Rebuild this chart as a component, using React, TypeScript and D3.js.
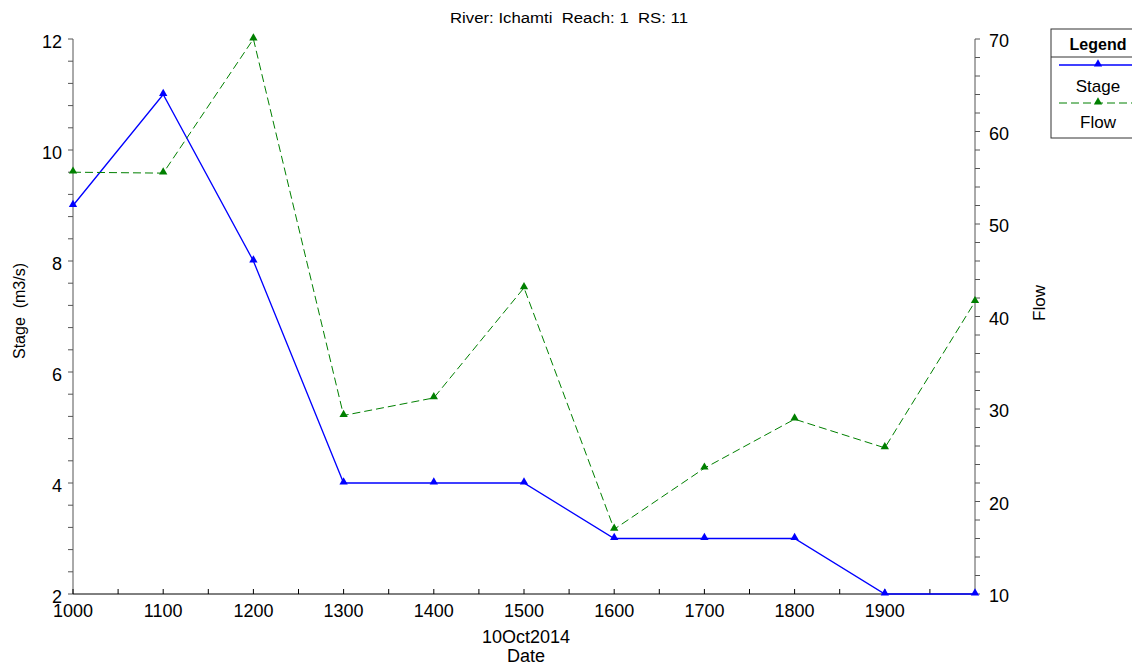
import { useEffect, useRef } from 'react';
import * as d3 from 'd3';

const hours = [1000, 1100, 1200, 1300, 1400, 1500, 1600, 1700, 1800, 1900, 2000];
const stage = [9, 11, 8, 4, 4, 4, 3, 3, 3, 2, 2];
const flow = [55.6, 55.5, 70, 29.3, 31.2, 43.1, 17, 23.6, 28.9, 25.8, 41.6];
const xTicks = [1000, 1100, 1200, 1300, 1400, 1500, 1600, 1700, 1800, 1900];
const stageTicks = [2, 4, 6, 8, 10, 12];
const flowTicks = [10, 20, 30, 40, 50, 60, 70];

const App = () => {
  const svgRef = useRef<SVGSVGElement>(null);

  useEffect(() => {
    const width = 1132;
    const height = 665;
    const left = 73;
    const right = 975;
    const top = 39;
    const bottom = 594;
    const font = 'Arial, "Liberation Sans", sans-serif';

    const svg = d3.select(svgRef.current).attr('width', width).attr('height', height);
    svg.selectAll('*').remove();

    const x = d3.scaleLinear().domain([1000, 2000]).range([left, right]);
    const yS = d3.scaleLinear().domain([2, 12]).range([bottom, top]);
    const yF = d3.scaleLinear().domain([10, 70]).range([bottom, top]);

    svg.append('rect').attr('width', width).attr('height', height).attr('fill', '#fff');

    // title
    svg.append('text').attr('x', 450).attr('y', 23)
      .attr('textLength', 238).attr('lengthAdjust', 'spacingAndGlyphs')
      .style('font-family', font).style('font-size', '14px').style('white-space', 'pre')
      .text('River: Ichamti  Reach: 1  RS: 11');

    // left axis
    const gl = svg.append('g');
    gl.append('line').attr('x1', left).attr('x2', left).attr('y1', top).attr('y2', bottom).attr('stroke', '#555');
    d3.range(2, 12.01, 0.4).forEach((v) => {
      gl.append('line').attr('x1', left - 5).attr('x2', left).attr('y1', yS(v)).attr('y2', yS(v)).attr('stroke', '#555');
    });
    stageTicks.forEach((v) => {
      gl.append('text').attr('x', left - 11).attr('y', yS(v) + 9).attr('text-anchor', 'end')
        .style('font-family', font).style('font-size', '18px').text(v);
    });
    gl.append('text').attr('transform', 'translate(25,311) rotate(-90)')
      .attr('text-anchor', 'middle')
      .style('font-family', font).style('font-size', '16px').style('white-space', 'pre').text('Stage  (m3/s)');

    // right axis
    const gr = svg.append('g');
    gr.append('line').attr('x1', right).attr('x2', right).attr('y1', top).attr('y2', bottom).attr('stroke', '#555');
    d3.range(10, 70.01, 2).forEach((v) => {
      gr.append('line').attr('x1', right).attr('x2', right + 5).attr('y1', yF(v)).attr('y2', yF(v)).attr('stroke', '#555');
    });
    flowTicks.forEach((v) => {
      gr.append('text').attr('x', right + 14).attr('y', yF(v) + 8).attr('text-anchor', 'start')
        .style('font-family', font).style('font-size', '18px').text(v);
    });
    gr.append('text').attr('transform', 'translate(1045,303) rotate(-90)')
      .attr('text-anchor', 'middle')
      .style('font-family', font).style('font-size', '17px').text('Flow');

    // bottom axis
    const gb = svg.append('g');
    gb.append('line').attr('x1', left).attr('x2', right).attr('y1', bottom).attr('y2', bottom).attr('stroke', '#000');
    d3.range(1000, 2000, 50).forEach((v) => {
      gb.append('line').attr('x1', x(v)).attr('x2', x(v)).attr('y1', bottom - 5).attr('y2', bottom).attr('stroke', '#000');
    });
    xTicks.forEach((v) => {
      gb.append('text').attr('x', x(v)).attr('y', bottom + 23).attr('text-anchor', 'middle')
        .style('font-family', font).style('font-size', '18px').text(v);
    });
    gb.append('text').attr('x', x(1500) + 2).attr('y', 643).attr('text-anchor', 'middle')
      .style('font-family', font).style('font-size', '18px').text('10Oct2014');
    gb.append('text').attr('x', x(1500) + 2).attr('y', 662).attr('text-anchor', 'middle')
      .style('font-family', font).style('font-size', '18px').text('Date');

    const tri = d3.symbol().type(d3.symbolTriangle).size(30);

    // series
    const stageLine = d3.line<number>().x((d, i) => x(hours[i])).y((d) => yS(d));
    svg.append('path').attr('d', stageLine(stage)).attr('fill', 'none').attr('stroke', '#0000ff').attr('stroke-width', 1.3);
    const flowLine = d3.line<number>().x((d, i) => x(hours[i])).y((d) => yF(d));
    svg.append('path').attr('d', flowLine(flow)).attr('fill', 'none').attr('stroke', '#008000')
      .attr('stroke-width', 1).attr('stroke-dasharray', '8,4');

    svg.selectAll('.ms').data(stage).enter().append('path')
      .attr('transform', (d, i) => `translate(${x(hours[i])},${yS(d) - 1})`)
      .attr('d', tri).attr('fill', '#0000ff');
    svg.selectAll('.mf').data(flow).enter().append('path')
      .attr('transform', (d, i) => `translate(${x(hours[i])},${yF(d) - 1})`)
      .attr('d', tri).attr('fill', '#008000');

    // legend
    const lg = svg.append('g');
    const lx = 1051;
    const lw = 95;
    lg.append('rect').attr('x', lx).attr('y', 29).attr('width', lw).attr('height', 109)
      .attr('fill', '#fff').attr('stroke', '#333');
    lg.append('line').attr('x1', lx).attr('x2', lx + lw).attr('y1', 57).attr('y2', 57).attr('stroke', '#333');
    lg.append('text').attr('x', 1098).attr('y', 50).attr('text-anchor', 'middle')
      .style('font-family', font).style('font-size', '16px').style('font-weight', 'bold').text('Legend');
    lg.append('line').attr('x1', lx + 8).attr('x2', lx + lw).attr('y1', 65).attr('y2', 65)
      .attr('stroke', '#0000ff').attr('stroke-width', 1.3);
    lg.append('path').attr('transform', 'translate(1098,64)').attr('d', tri).attr('fill', '#0000ff');
    lg.append('text').attr('x', 1098).attr('y', 92).attr('text-anchor', 'middle')
      .style('font-family', font).style('font-size', '17px').text('Stage');
    lg.append('line').attr('x1', lx + 8).attr('x2', lx + lw).attr('y1', 103).attr('y2', 103)
      .attr('stroke', '#008000').attr('stroke-dasharray', '8,4');
    lg.append('path').attr('transform', 'translate(1098,102)').attr('d', tri).attr('fill', '#008000');
    lg.append('text').attr('x', 1098).attr('y', 128).attr('text-anchor', 'middle')
      .style('font-family', font).style('font-size', '17px').text('Flow');
  }, []);

  return (
    <div style={{ position: 'absolute', left: 0, top: 0 }}>
      <svg ref={svgRef} style={{ display: 'block' }}></svg>
    </div>
  );
};

export default App;
